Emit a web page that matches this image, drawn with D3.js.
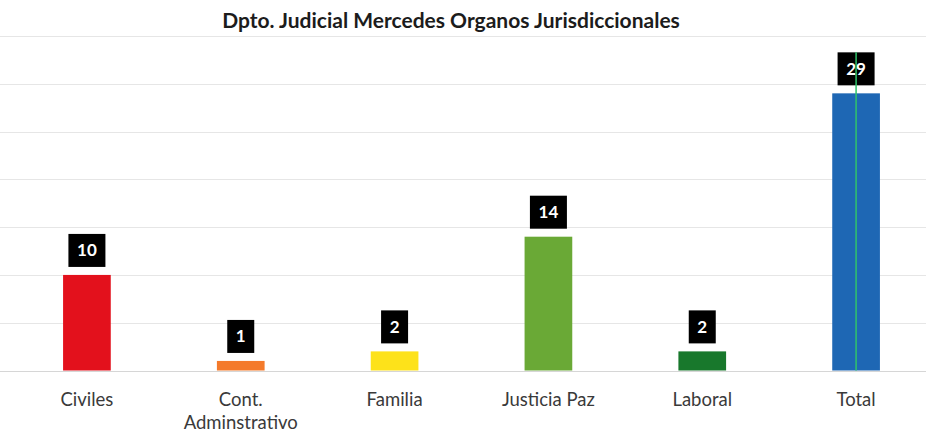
<!DOCTYPE html>
<html><head><meta charset="utf-8">
<script src="https://cdn.jsdelivr.net/npm/d3@7"></script>
<style>body{margin:0;background:#fff;}svg{display:block;}</style>
</head><body>
<script>
const categories = ["Civiles", "Cont.\nAdminstrativo", "Familia", "Justicia Paz", "Laboral", "Total"];
const values = [10, 1, 2, 14, 2, 29];
const colors = ["#e3111c", "#f47a2b", "#fde21a", "#6aa936", "#18782c", "#1e67b4"];
const yTicks = [0, 5, 10, 15, 20, 25, 30, 35];
const title = "Dpto. Judicial Mercedes Organos Jurisdiccionales";

const W = 926, H = 432;
const svg = d3.select("body").append("svg").attr("width", W).attr("height", H);

const x = d3.scaleBand().domain(categories).range([10, 933]).paddingInner(0.69).paddingOuter(0.345);
const y = d3.scaleLinear().domain([0, 35]).range([370.5, 36]);

// gridlines
svg.append("g").selectAll("line").data(yTicks).join("line")
  .attr("x1", 0).attr("x2", W)
  .attr("y1", d => Math.round(y(d)) + 0.5).attr("y2", d => Math.round(y(d)) + 0.5)
  .attr("stroke", d => d === 0 ? "#d6d6d6" : "#e6e6e6").attr("stroke-width", 1.2);

// title
svg.append("text").attr("x", 451).attr("y", 28).attr("text-anchor", "middle")
  .attr("font-family", "Lato, 'Open Sans', sans-serif").attr("font-weight", "bold")
  .attr("font-size", 21).attr("fill", "#1c1c1c").text(title);

// bars
svg.append("g").selectAll("rect").data(values).join("rect")
  .attr("x", (d, i) => x(categories[i])).attr("width", x.bandwidth())
  .attr("y", d => y(d)).attr("height", d => y(0) - y(d))
  .attr("fill", (d, i) => colors[i]);

// value labels
const lbl = svg.append("g").selectAll("g").data(values).join("g")
  .attr("transform", (d, i) => `translate(${x(categories[i]) + x.bandwidth() / 2},${y(d) - 8})`);
lbl.append("rect")
  .attr("x", d => String(d).length > 1 ? -18.5 : -13.5)
  .attr("width", d => String(d).length > 1 ? 37 : 27)
  .attr("y", -33).attr("height", 33).attr("fill", "#000");
lbl.append("text").attr("y", -10.5).attr("text-anchor", "middle")
  .attr("font-family", "Lato, 'Open Sans', sans-serif").attr("font-weight", "bold")
  .attr("font-size", 17).attr("fill", "#fff").text(d => d);

// green line on total bar
const tIdx = categories.length - 1;
svg.append("line")
  .attr("x1", x(categories[tIdx]) + x.bandwidth() / 2).attr("x2", x(categories[tIdx]) + x.bandwidth() / 2)
  .attr("y1", y(values[tIdx]) - 41).attr("y2", y(0))
  .attr("stroke", "#2fc36a").attr("stroke-width", 1.5);

// category labels
const cl = svg.append("g").selectAll("text").data(categories).join("text")
  .attr("x", d => x(d) + x.bandwidth() / 2).attr("y", 406).attr("text-anchor", "middle")
  .attr("font-family", "Lato, 'Open Sans', sans-serif").attr("font-size", 18.5).attr("fill", "#3a3a3a");
cl.each(function(d) {
  const parts = d.split("\n");
  d3.select(this).selectAll("tspan").data(parts).join("tspan")
    .attr("x", x(d) + x.bandwidth() / 2).attr("dy", (p, j) => j === 0 ? 0 : 23).text(p => p);
});
</script>
</body></html>
